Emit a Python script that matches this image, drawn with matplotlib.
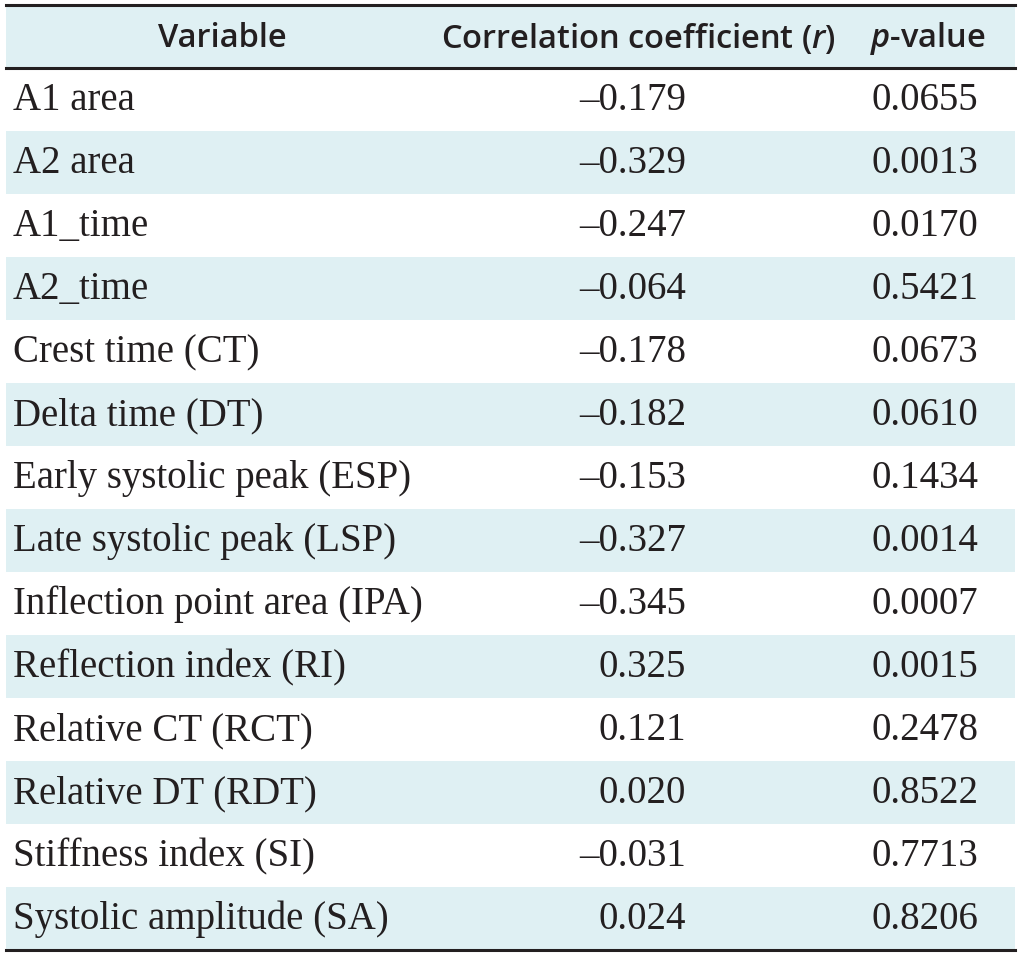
import matplotlib
matplotlib.use("Agg")
import matplotlib.pyplot as plt
from matplotlib.patches import Rectangle

# table content
variables = ["A1 area", "A2 area", "A1_time", "A2_time", "Crest time (CT)",
             "Delta time (DT)", "Early systolic peak (ESP)", "Late systolic peak (LSP)",
             "Inflection point area (IPA)", "Reflection index (RI)", "Relative CT (RCT)",
             "Relative DT (RDT)", "Stiffness index (SI)", "Systolic amplitude (SA)"]
r_values = [-0.179, -0.329, -0.247, -0.064, -0.178, -0.182, -0.153, -0.327,
            -0.345, 0.325, 0.121, 0.020, -0.031, 0.024]
p_values = [0.0655, 0.0013, 0.0170, 0.5421, 0.0673, 0.0610, 0.1434, 0.0014,
            0.0007, 0.0015, 0.2478, 0.8522, 0.7713, 0.8206]

plt.rcParams["mathtext.fontset"] = "custom"
plt.rcParams["mathtext.it"] = "Open Sans:italic:semibold"
plt.rcParams["mathtext.rm"] = "Open Sans:semibold"

W, H = 1021, 958
shade = "#dff0f3"
ink = "#231f20"

fig = plt.figure(figsize=(W / 100, H / 100), dpi=100)
ax = fig.add_axes([0, 0, 1, 1])
ax.set_xlim(0, W)
ax.set_ylim(H, 0)
ax.axis("off")

x0, x1 = 6, 1015
top = 5
row_h = 63.0

head_font = dict(family="Open Sans", fontsize=23.5, fontweight="semibold", color=ink)
body_font = dict(family="Liberation Serif", fontsize=28, color=ink)

# header band
ax.add_patch(Rectangle((x0, top), x1 - x0, row_h, color=shade, lw=0))
hy = top + row_h / 2 + 2
ax.text(222, hy, "Variable", ha="center", va="center", **head_font)
ax.text(638, hy, "Correlation coefficient ($\\it{r}$)", ha="center", va="center", **head_font)
ax.text(928, hy, "$\\it{p}$-value", ha="center", va="center", **head_font)

for i, (name, r, p) in enumerate(zip(variables, r_values, p_values)):
    y = top + row_h * (i + 1)
    if i % 2 == 1:
        ax.add_patch(Rectangle((x0, y), x1 - x0, row_h, color=shade, lw=0))
    cy = y + row_h / 2 + 1
    r_txt = ("\u2013" if r < 0 else "") + f"{abs(r):.3f}"
    ax.text(13, cy, name, ha="left", va="center", **body_font)
    ax.text(686, cy, r_txt, ha="right", va="center", **body_font)
    ax.text(978, cy, f"{p:.4f}", ha="right", va="center", **body_font)

bottom = top + row_h * (len(variables) + 1)
ax.plot([x0, x1], [top, top], color=ink, lw=2.2)
ax.plot([x0, x1], [top + row_h, top + row_h], color=ink, lw=2.2)
ax.plot([x0, x1], [bottom, bottom], color=ink, lw=2.2)

fig.savefig("out.png", dpi=100, facecolor="white")
